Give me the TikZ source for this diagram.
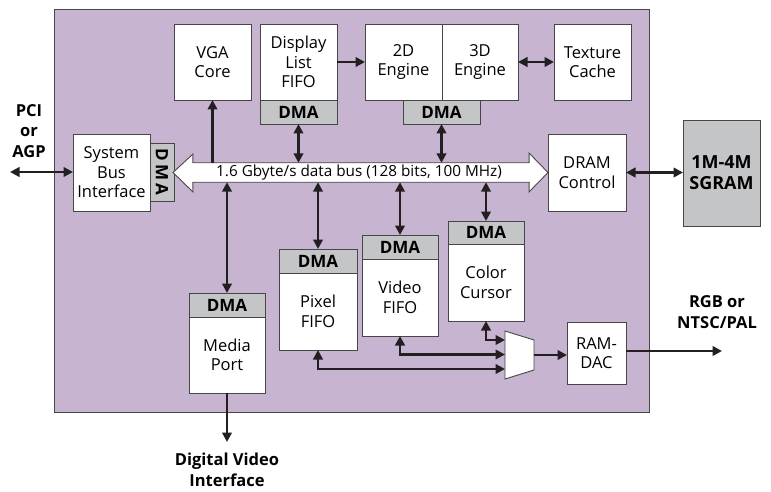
\documentclass[tikz,border=0pt]{standalone}
\usepackage{fontspec}
\setmainfont{Open Sans}
\usetikzlibrary{arrows.meta}
\definecolor{chip}{RGB}{198,180,209}
\definecolor{dmagray}{RGB}{196,197,199}
\definecolor{ink}{RGB}{35,31,32}
\definecolor{edge}{RGB}{70,70,70}
\tikzset{
  x=1pt, y=-1pt,
  box/.style={draw=edge, line width=0.9pt, fill=white, inner sep=0pt, outer sep=0pt,
    align=center, font=\fontsize{16.5}{19.5}\selectfont},
  dmabox/.style={box, fill=dmagray, font=\fontsize{17}{19}\selectfont\bfseries},
  lbl/.style={align=center, font=\fontsize{16.5}{20.5}\selectfont\bfseries, inner sep=0pt},
  arr/.style={draw=ink, line width=2.6pt, -{Triangle[length=9.5pt,width=9.5pt]}},
  darr/.style={draw=ink, line width=2.6pt, {Triangle[length=9.5pt,width=9.5pt]}-{Triangle[length=9.5pt,width=9.5pt]}},
}
\begin{document}
\begin{tikzpicture}
\useasboundingbox (0,0) rectangle (771,492);
% chip outline
\draw[edge, line width=0.9pt, fill=chip] (54,9) rectangle (649,412);

% top row
\node[box, minimum width=77, minimum height=76] (vga) at (212.5,62) {VGA\\Core};
\node[box, minimum width=77, minimum height=76] (dlf) at (298.5,62) {Display\\List\\FIFO};
\node[dmabox, minimum width=77, minimum height=24] (dlfdma) at (298.5,112) {DMA};
\node[box, minimum width=77, minimum height=76] (eng2d) at (403.5,62) {2D\\Engine};
\node[box, minimum width=76, minimum height=76] (eng3d) at (480,62) {3D\\Engine};
\node[dmabox, minimum width=77, minimum height=24] (engdma) at (441.5,112) {DMA};
\node[box, minimum width=77, minimum height=76] (tex) at (592.5,62) {Texture\\Cache};

% system bus interface
\node[box, minimum width=77, minimum height=77] (sbi) at (111.5,172.5) {System\\Bus\\Interface};
\node[dmabox, minimum width=58, minimum height=24, rotate=-90] (sbidma) at (162,172) {D\,M\,A};

% data bus: invisible shaft node, block-arrow outline around it
\node[inner sep=0pt, minimum width=336, minimum height=19] (bus) at (361,172.5) {};
\filldraw[fill=white, draw=edge, line width=0.9pt]
  (173,172.5) -- (193,154) -- (bus.north west) -- (bus.north east) -- (529,153)
  -- (548,172.5) -- (529,192) -- (bus.south east) -- (bus.south west) -- (193,192) -- cycle;
\node[inner sep=0pt, font=\fontsize{15.3}{17}\selectfont] (bustext) at (359,172.5) {1.6 Gbyte/s data bus (128 bits, 100 MHz)};

% DRAM and SGRAM
\node[box, minimum width=78, minimum height=77] (dram) at (587,172.5) {DRAM\\Control};
\node[box, fill=dmagray, minimum width=77, minimum height=106, font=\fontsize{18}{21}\selectfont\bfseries] (sgram) at (721.5,173) {1M-4M\\SGRAM};

% lower blocks
\node[dmabox, minimum width=76, minimum height=24] (mpdma) at (227,305) {DMA};
\node[box, minimum width=76, minimum height=76, anchor=north] (mp) at (mpdma.south) {Media\\Port};
\node[dmabox, minimum width=78, minimum height=24] (pxdma) at (318,261) {DMA};
\node[box, minimum width=78, minimum height=77, anchor=north] (px) at (pxdma.south) {Pixel\\FIFO};
\node[dmabox, minimum width=76, minimum height=24] (vfdma) at (400,247) {DMA};
\node[box, minimum width=76, minimum height=77, anchor=north] (vf) at (vfdma.south) {Video\\FIFO};
\node[dmabox, minimum width=76, minimum height=23] (ccdma) at (486,232.5) {DMA};
\node[box, minimum width=76, minimum height=77, anchor=north] (cc) at (ccdma.south) {Color\\Cursor};

% multiplexer
\coordinate (mxa) at (505,331);
\coordinate (mxb) at (534,340);
\coordinate (mxc) at (534,370);
\coordinate (mxd) at (505,379);
\filldraw[fill=white, draw=edge, line width=0.9pt] (mxa) -- (mxb) -- (mxc) -- (mxd) -- cycle;
\coordinate (mxin1) at (505,340);
\coordinate (mxin2) at (505,354.5);
\coordinate (mxin3) at (505,369);
\coordinate (mxout) at (534,355);

\node[box, minimum width=59, minimum height=62] (dac) at (596.5,353) {RAM-\\DAC};

% external labels
\node[lbl] (pci) at (29,131) {PCI\\or\\AGP};
\node[lbl] (dvi) at (227,470) {Digital Video\\Interface};
\node[lbl] (rgb) at (717,312) {RGB or\\NTSC/PAL};
\coordinate (pciend) at (10,172);
\coordinate (dviend) at (227,442);
\coordinate (rgbend) at (722,351);

% connectors
\draw[darr] (pciend) -- (sbi.west |- pciend);
\draw[arr] (bus.north -| vga.south) -- (vga.south);
\draw[darr] (dlfdma.south) -- (bus.north -| dlfdma.south);
\draw[darr] (engdma.south) -- (bus.north -| engdma.south);
\draw[arr] (dlf.east) -- (eng2d.west);
\draw[darr] (eng3d.east) -- (tex.west);
\draw[darr] (dram.east) -- (sgram.west |- dram.east);

\draw[darr] (bus.south -| mpdma.north) -- (mpdma.north);
\draw[darr] (bus.south -| pxdma.north) -- (pxdma.north);
\draw[darr] (bus.south -| vfdma.north) -- (vfdma.north);
\draw[darr] (bus.south -| ccdma.north) -- (ccdma.north);
\draw[arr] (mp.south) -- (dviend);

\draw[darr] (cc.south) |- (mxin1);
\draw[darr] (vf.south) |- (mxin2);
\draw[darr] (px.south) |- (mxin3);
\draw[arr] (mxout) -- (dac.west |- mxout);
\draw[arr] (dac.east |- rgbend) -- (rgbend);
\end{tikzpicture}
\end{document}
